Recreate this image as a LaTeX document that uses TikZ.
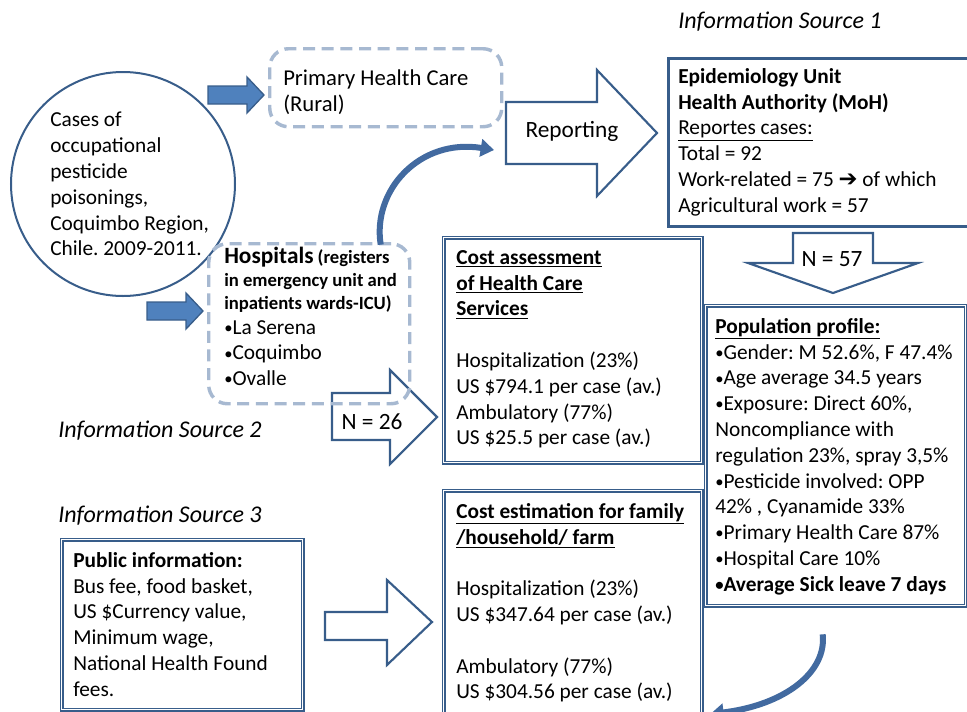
\documentclass[tikz,border=0pt]{standalone}
\usepackage{fontspec}
\setmainfont{Carlito}
\newfontfamily\dejavu{DejaVu Sans}
\usepackage{tikz}
\usetikzlibrary{arrows.meta, positioning}
\frenchspacing

\definecolor{frameblue}{RGB}{56,93,138}
\definecolor{arrowblue}{RGB}{79,129,189}
\definecolor{dashblue}{RGB}{167,185,209}
\definecolor{curveblue}{RGB}{66,106,160}

% small bullet as in the lists
\newcommand{\bul}{{\fontsize{12.5}{0}\selectfont\raisebox{0.6pt}{\textbullet}}}

\tikzset{
  body/.style={font=\fontsize{16}{19.35}\selectfont, inner sep=0pt, align=left, anchor=north west},
  bigtext/.style={font=\fontsize{17.5}{20}\selectfont, inner sep=0pt},
  source/.style={font=\fontsize{18}{20}\selectfont\itshape, inner sep=0pt, anchor=base west},
  dashbox/.style={draw=dashblue, line width=2.6pt, dash pattern=on 9pt off 5pt, rounded corners=14pt, anchor=north west},
  dblbox/.style={draw=frameblue, line width=1pt, double=white, double distance=1.2pt, anchor=north west},
  thickbox/.style={draw=frameblue, line width=2.6pt, anchor=north west},
  blockarrow/.style={draw=frameblue, line width=1.6pt, fill=white, line join=miter},
  fillarrow/.style={draw=frameblue, line width=1pt, fill=arrowblue},
  curvearrow/.style={draw=curveblue, line width=4.5pt, -{Triangle[width=13pt,length=10pt]}},
}

\begin{document}
\begin{tikzpicture}[x=0.75pt, y=-0.75pt]
    \useasboundingbox (0,0) rectangle (967,711);

    % titles of the three sources
    \node[source] (srcone) at (678,28) {Information Source 1};
    \node[source] (srctwo) at (58,437) {Information Source 2};
    \node[source] (srcthree) at (58,522) {Information Source 3};

    % cases circle on the left
    \node[circle, draw=frameblue, line width=1.5pt, minimum size=168pt, inner sep=0pt] (cases) at (123,184) {};
    \node[body] (casestext) at (50,112) {Cases of\\occupational\\pesticide\\poisonings,\\Coquimbo Region,\\Chile. 2009-2011.};

    % small filled arrows out of the circle
    \draw[fillarrow] (208,86) -- (247,86) -- (247,77) -- (264,95) -- (247,113) -- (247,104) -- (208,104) -- cycle;
    \draw[fillarrow] (147,302) -- (186,302) -- (186,293) -- (203,311) -- (186,329) -- (186,320) -- (147,320) -- cycle;

    % primary health care
    \node[dashbox, minimum width=174pt, minimum height=58.5pt] (phc) at (268,47) {};
    \node[body, font=\fontsize{17}{20}\selectfont] (phctext) at (283,69) {Primary Health Care\\(Rural)};

    % reporting arrow
    \draw[blockarrow] (506,102) -- (597,102) -- (597,70) -- (657,133) -- (597,196) -- (597,164) -- (506,164) -- cycle;
    \node[bigtext] (report) at (572,131) {Reporting};
    \coordinate (reptail) at (494,150);

    % epidemiology unit
    \node[thickbox, minimum width=240pt, minimum height=126pt] (epi) at (667,57) {};
    \node[body] (epitext) at (678,68) {\textbf{Epidemiology Unit}\\
        \textbf{Health Authority (MoH)}\\
        \underline{Reportes cases:}\\
        Total = 92\\
        Work-related = 75 {\dejavu\bfseries\fontsize{17}{19.35}\selectfont ➔} of which\\
        Agricultural work = 57};

    % N = 57 down arrow
    \draw[blockarrow] (793,233) -- (873,233) -- (873,263) -- (918,263) -- (833,293) -- (748,263) -- (793,263) -- cycle;
    \node[bigtext] (nfiftyseven) at (832,259) {N = 57};

    % population profile
    \node[dblbox, minimum width=195pt, minimum height=225pt] (pop) at (705,305) {};
    \node[body] (poptext) at (715,318) {\textbf{\underline{Population profile:}}\\
        \bul Gender: M 52.6\%, F 47.4\%\\
        \bul Age average 34.5 years\\
        \bul Exposure: Direct 60\%,\\
        Noncompliance with\\
        regulation 23\%, spray 3,5\%\\
        \bul Pesticide involved: OPP\\
        42\% , Cyanamide 33\%\\
        \bul Primary Health Care 87\%\\
        \bul Hospital Care 10\%\\
        \textbf{\bul Average Sick leave 7 days}};

    % cost assessment
    \node[dblbox, minimum width=193.5pt, minimum height=168.75pt] (costa) at (443,237) {};
    \node[body] (costatext) at (456,250) {\textbf{\underline{Cost assessment}}\\
        \textbf{\underline{of Health Care}}\\
        \textbf{\underline{Services}}\\[19.35pt]
        Hospitalization (23\%)\\
        US \$794.1 per case (av.)\\
        Ambulatory (77\%)\\
        US \$25.5 per case (av.)};

    % N = 26 arrow, under the hospitals box
    \draw[blockarrow] (332,393) -- (390,393) -- (390,370) -- (437,417) -- (390,464) -- (390,440) -- (332,440) -- cycle;
    \node[bigtext] (ntwentysix) at (372,422) {N = 26};

    % hospitals
    \node[dashbox, minimum width=150.75pt, minimum height=120pt] (hosp) at (207,242) {};
    \node[body, font=\bfseries\fontsize{14}{17.3}\selectfont] (hosphead) at (224,247) {{\fontsize{17.5}{17.3}\selectfont Hospitals} (registers\\in emergency unit and\\inpatients wards-ICU)};
    \node[body] (hosplist) at (224,320) {\bul La Serena\\\bul Coquimbo\\\bul Ovalle};

    % public information
    \node[dblbox, minimum width=180.75pt, minimum height=127.5pt] (public) at (61,539) {};
    \node[body] (publictext) at (73,552) {\textbf{Public information:}\\
        Bus fee, food basket,\\
        US \$Currency value,\\
        Minimum wage,\\
        National Health Found\\
        fees.};

    % arrow to the cost estimation
    \draw[blockarrow] (325,612) -- (387,612) -- (387,580) -- (432,622) -- (387,665) -- (387,640) -- (325,640) -- cycle;

    % cost estimation
    \node[dblbox, minimum width=193.5pt, minimum height=180pt] (coste) at (443,490) {};
    \node[body] (costetext) at (456,503) {\textbf{\underline{Cost estimation for family}}\\
        \textbf{\underline{/household/ farm}}\\[19.35pt]
        Hospitalization (23\%)\\
        US \$347.64 per case (av.)\\[19.35pt]
        Ambulatory (77\%)\\
        US \$304.56 per case (av.)};

    % curved arrows
    \draw[curvearrow] ([xshift=53.6pt,yshift=-2pt]hosp.north) .. controls (372,190) and (420,138) .. (reptail);
    \draw[curvearrow] ([xshift=-9.75pt,yshift=-21pt]pop.south) .. controls (827,672) and (785,705) .. ([xshift=6pt,yshift=13pt]coste.south east);

\end{tikzpicture}
\end{document}
